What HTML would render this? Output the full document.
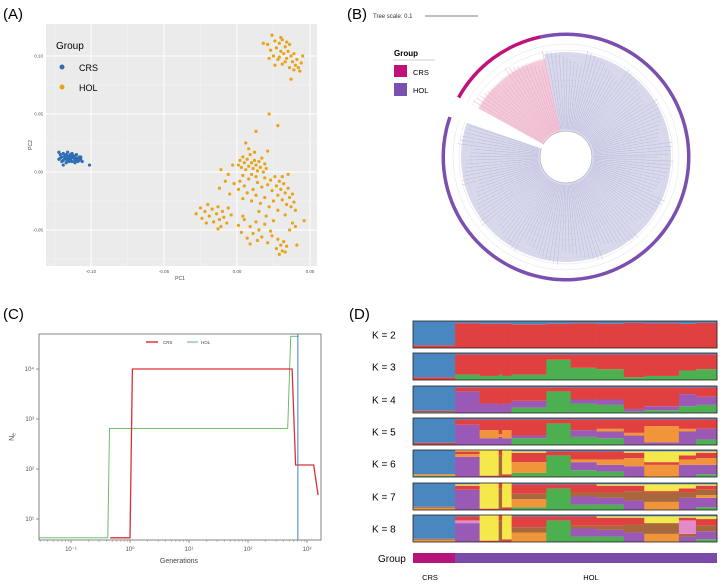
<!DOCTYPE html>
<html><head><meta charset="utf-8"><style>
body{margin:0;background:#fff;}
svg{display:block;font-family:"Liberation Sans",sans-serif;}
</style></head><body>
<svg id="fig" width="722" height="586" viewBox="0 0 722 586" xmlns="http://www.w3.org/2000/svg">
<text x="3" y="19" font-size="15">(A)</text>
<text x="347" y="19" font-size="15">(B)</text>
<text x="3" y="319" font-size="15">(C)</text>
<text x="349" y="319" font-size="15">(D)</text>

<g id="pa">
<rect x="46" y="24" width="271" height="242" fill="#ebebeb"/>
<g id="pagrid"></g><g id="papts"></g>
<text x="56" y="49" font-size="10">Group</text>
<circle cx="62" cy="67" r="2.5" fill="#2e6db4"/>
<text x="79" y="71" font-size="9">CRS</text>
<circle cx="62" cy="87" r="2.5" fill="#e8a317"/>
<text x="79" y="91" font-size="9">HOL</text>
<text x="180" y="280" font-size="5" fill="#444" text-anchor="middle">PC1</text>
<text x="32" y="145" font-size="5" fill="#444" text-anchor="middle" transform="rotate(-90 32 145)">PC2</text>
</g>

<g id="pb">
<text x="373" y="18" font-size="6" fill="#333">Tree scale: 0.1</text>
<line x1="425" y1="16" x2="478" y2="16" stroke="#555" stroke-width="0.7"/>
<g id="tree"></g>
<rect x="391" y="44" width="46" height="56" fill="#fff"/>
<text x="394" y="56" font-size="8" font-weight="bold">Group</text>
<line x1="393" y1="60" x2="435" y2="60" stroke="#999" stroke-width="0.5"/>
<rect x="394" y="65" width="13" height="12" fill="#c0127a"/>
<text x="413" y="75" font-size="7.5">CRS</text>
<rect x="394" y="83" width="13" height="13" fill="#7b4fb0"/>
<text x="413" y="93" font-size="7.5">HOL</text>
</g>

<g id="pc">
<g id="cax"></g><g id="clines"></g>
<rect x="39" y="334" width="282" height="206" fill="none" stroke="#666" stroke-width="0.8"/>
<line x1="146" y1="342" x2="158" y2="342" stroke="#d9303a" stroke-width="1.5"/>
<text x="163" y="344" font-size="4.5" fill="#444">CRS</text>
<line x1="187" y1="342" x2="198" y2="342" stroke="#5cb85c" stroke-width="1"/>
<text x="201" y="344" font-size="4.5" fill="#444">HOL</text>
<text x="179" y="563" font-size="7" fill="#444" text-anchor="middle">Generations</text>
<text x="14" y="437" font-size="7" fill="#444" text-anchor="middle" transform="rotate(-90 14 437)">N<tspan font-size="5" dy="1.5">e</tspan></text>
</g>

<g id="pd">
<g id="adm"></g>
<rect x="413" y="553" width="42" height="10" fill="#b5157a"/>
<rect x="455" y="553" width="262" height="10" fill="#7a4aa8"/>
<text x="378" y="562" font-size="10">Group</text>
<text x="430" y="580" font-size="7.5" text-anchor="middle">CRS</text>
<text x="591" y="580" font-size="7.5" text-anchor="middle">HOL</text>
</g>
</svg>
<script>
var NS="http://www.w3.org/2000/svg";
function mk(tag,attrs,parent){var e=document.createElementNS(NS,tag);for(var k in attrs)e.setAttribute(k,attrs[k]);parent.appendChild(e);return e;}

// ---------- Panel A data ----------
var pcTicksX=[-0.10,-0.05,0.00,0.05];
var pcTicksY=[-0.05,0.00,0.05,0.10];
var crsPoints=[[-0.122,0.017],[-0.121,0.015],[-0.120,0.013],[-0.119,0.016],[-0.118,0.012],[-0.118,0.014],[-0.117,0.011],[-0.117,0.015],[-0.116,0.013],[-0.116,0.010],[-0.115,0.014],[-0.115,0.012],[-0.114,0.011],[-0.114,0.015],[-0.113,0.013],[-0.113,0.009],[-0.112,0.012],[-0.112,0.014],[-0.111,0.010],[-0.111,0.013],[-0.110,0.011],[-0.110,0.015],[-0.109,0.012],[-0.109,0.009],[-0.108,0.010],[-0.108,0.013],[-0.107,0.011],[-0.106,0.009],[-0.121,0.012],[-0.119,0.010],[-0.117,0.008],[-0.115,0.009],[-0.122,0.011],[-0.120,0.009],[-0.113,0.016],[-0.111,0.008],[-0.107,0.013],[-0.101,0.006],[-0.119,0.006],[-0.116,0.017]];
var holPoints=[[0.018,0.111],[0.021,0.110],[0.024,0.118],[0.026,0.113],[0.027,0.107],[0.029,0.111],[0.030,0.104],[0.031,0.114],[0.032,0.102],[0.033,0.108],[0.034,0.098],[0.035,0.104],[0.036,0.110],[0.037,0.100],[0.038,0.095],[0.039,0.102],[0.040,0.092],[0.041,0.097],[0.042,0.090],[0.044,0.094],[0.045,0.100],[0.028,0.097],[0.026,0.092],[0.025,0.100],[0.023,0.105],[0.031,0.093],[0.033,0.095],[0.036,0.090],[0.037,0.080],[0.029,0.099],[0.034,0.112],[0.030,0.116],[0.039,0.088],[0.022,0.098],[0.043,0.087],
[0.022,0.050],[0.028,0.040],[0.013,0.035],
[0.001,0.006],[0.002,0.010],[0.003,0.004],[0.004,0.013],[0.005,0.008],[0.006,0.002],[0.007,0.011],[0.008,0.005],[0.009,0.015],[0.010,0.008],[0.011,0.003],[0.012,0.010],[0.013,0.006],[0.014,0.001],[0.015,0.009],[0.016,0.004],[0.017,0.012],[0.018,0.000],[0.019,0.007],[0.020,0.003],[0.021,0.018],[0.008,0.020],[0.012,0.017],[0.006,0.025],[0.010,-0.002],[0.013,-0.004],[0.004,-0.003],[-0.003,0.006],[-0.006,-0.002],[-0.011,0.002],
[0.002,-0.008],[0.005,-0.012],[0.008,-0.006],[0.011,-0.015],[0.014,-0.009],[0.017,-0.013],[0.019,-0.005],[0.021,-0.011],[0.023,-0.007],[0.024,-0.016],[0.026,-0.004],[0.027,-0.012],[0.028,-0.020],[0.029,-0.008],[0.030,-0.015],[0.031,-0.024],[0.032,-0.010],[0.033,-0.018],[0.034,-0.028],[0.035,-0.014],[0.036,-0.022],[0.037,-0.030],[0.038,-0.019],[0.039,-0.026],[0.040,-0.033],[0.025,-0.025],[0.022,-0.030],[0.019,-0.022],[0.016,-0.027],[0.013,-0.020],[0.010,-0.025],[0.007,-0.018],[0.004,-0.023],[0.001,-0.015],[-0.002,-0.010],[-0.005,-0.019],[-0.008,-0.008],[-0.012,-0.014],[0.031,-0.004],[0.035,-0.002],[0.028,-0.033],[0.033,-0.037],[0.020,-0.038],[0.015,-0.034],
[-0.028,-0.036],[-0.025,-0.031],[-0.024,-0.040],[-0.022,-0.034],[-0.020,-0.028],[-0.019,-0.038],[-0.017,-0.032],[-0.016,-0.043],[-0.014,-0.036],[-0.013,-0.030],[-0.012,-0.041],[-0.011,-0.047],[-0.010,-0.034],[-0.009,-0.039],[-0.007,-0.044],[-0.006,-0.031],[-0.004,-0.037],[-0.013,-0.049],[-0.021,-0.044],
[0.001,-0.046],[0.003,-0.052],[0.005,-0.041],[0.007,-0.057],[0.009,-0.047],[0.011,-0.053],[0.013,-0.043],[0.015,-0.050],[0.017,-0.056],[0.019,-0.045],[0.021,-0.061],[0.023,-0.051],[0.025,-0.042],[0.027,-0.066],[0.028,-0.058],[0.029,-0.071],[0.030,-0.063],[0.031,-0.068],[0.032,-0.060],[0.033,-0.069],[0.034,-0.064],[0.036,-0.050],[0.038,-0.044],[0.040,-0.047],[0.046,-0.042],[0.041,-0.063],[0.009,-0.062],[0.014,-0.059],[0.004,-0.038],[0.024,-0.055]];

// ---------- Panel C data ----------
var neTicksX=[-1,0,1,2,3];
var neTicksY=[1,2,3,4];
var crsGen=[0.46,1.0,1.1,560,640,1300,1540];
var crsNe=[4.2,4.2,10000,10000,120,120,30];
var holGen=[0.028,0.42,0.45,470,530,720];
var holNe=[4.2,4.2,650,650,45000,45000];
var blueGen=700;

// ---------- Panel D data ----------
var compColors={g:"#4caf50",p:"#9b59b6",o:"#f0953a",br:"#a8683c",pk:"#e58ac8",r:"#e0403f",y:"#f5e84a",b:"#4a86c0"};
var stackOrder=["g","p","o","br","pk","r","y"];
var segCounts=[62,36,28,5,14,51,36,38,40,30,51,25,31];
var kLabels=[2,3,4,5,6,7,8];
var admK2=[{r:.1},{r:.92},{r:.9},{r:.9},{r:.9},{r:.88},{r:.9},{r:.92},{r:.9},{r:.93},{r:.92},{r:.9},{r:.93}];
var admK3=[{r:.1},{g:.2,r:.75},{g:.15,r:.8},{g:.2,r:.75},{g:.15,r:.8},{g:.2,r:.75},{g:.75,r:.2},{g:.45,r:.5},{g:.4,r:.55},{g:.1,r:.85},{g:.15,r:.8},{g:.35,r:.6},{g:.4,r:.55}];
var admK4=[{g:.03,r:.05},{p:.8,r:.15},{p:.35,r:.6},{p:.3,r:.65},{p:.35,r:.6},{g:.2,p:.25,r:.5},{g:.8,r:.15},{g:.35,p:.15,r:.45},{g:.3,p:.2,r:.45},{g:.05,p:.1,r:.8},{g:.1,p:.15,r:.7},{g:.25,p:.45,r:.25},{g:.3,p:.3,r:.35}];
var admK5=[{r:.08},{p:.75,r:.2},{p:.25,o:.3,r:.4},{p:.3,o:.1,r:.55},{p:.25,o:.3,r:.4},{g:.25,p:.1,r:.6},{g:.8,r:.15},{g:.3,p:.25,r:.4},{g:.25,p:.25,o:.1,r:.35},{p:.35,o:.1,r:.5},{p:.1,o:.6,r:.25},{p:.5,o:.1,r:.35},{g:.2,p:.4,r:.35}];
var admK6=[{g:.04,o:.06},{p:.75,o:.1,r:.1,y:.05},{y:.95,r:.05},{br:.8,r:.2},{y:.9,r:.1},{g:.15,o:.4,r:.35,y:.05},{g:.8,r:.15},{g:.25,p:.3,o:.1,r:.3},{g:.2,p:.25,o:.2,r:.3},{p:.4,o:.3,r:.2,y:.05},{o:.45,r:.1,y:.4},{p:.45,o:.2,r:.15,y:.15},{g:.1,p:.35,o:.25,r:.2,y:.05}];
var admK7=[{o:.08,br:.04},{p:.75,r:.15,y:.05},{y:.95,r:.05},{br:.8,r:.2},{y:.9,r:.1},{g:.1,o:.3,br:.2,r:.35},{g:.8,r:.15},{g:.2,p:.3,br:.15,r:.3},{g:.2,p:.25,br:.2,r:.25,y:.05},{p:.35,br:.35,r:.2,y:.05},{o:.3,br:.35,r:.05,y:.25},{p:.45,br:.2,r:.15,y:.15},{g:.1,p:.35,o:.1,br:.2,r:.15,y:.05}];
var admK8=[{o:.08,br:.04},{p:.7,pk:.1,r:.15},{y:.95,r:.05},{br:.8,r:.2},{y:.9,r:.1},{o:.35,br:.2,r:.4},{g:.8,r:.15},{g:.2,p:.3,br:.1,r:.35},{g:.2,p:.25,br:.15,r:.3,y:.05},{p:.35,br:.3,r:.25,y:.05},{o:.3,br:.4,y:.25},{p:.2,br:.1,pk:.5,r:.1,y:.05},{g:.1,p:.3,br:.2,r:.25,y:.1}];
var admRows=[admK2,admK3,admK4,admK5,admK6,admK7,admK8];

// ---------- Draw A ----------
(function(){
 var g=document.getElementById("pagrid"),pg=document.getElementById("papts"),par=document.getElementById("pa");
 function sx(v){return 237+v*1460;} function sy(v){return 172-v*1160;}
 // minor grid
 [-0.125,-0.075,-0.025,0.025].forEach(function(v){var l=mk("line",{x1:sx(v),x2:sx(v),y1:24,y2:266,stroke:"#f4f4f4","stroke-width":0.5},g);});
 [-0.075,-0.025,0.025,0.075].forEach(function(v){var l=mk("line",{y1:sy(v),y2:sy(v),x1:46,x2:317,stroke:"#f4f4f4","stroke-width":0.5},g);});
 pcTicksX.forEach(function(v){var l=mk("line",{x1:sx(v),x2:sx(v),y1:24,y2:266,stroke:"#fff","stroke-width":1},g);
  var t=mk("text",{x:sx(v),y:273,"font-size":4.5,fill:"#555","text-anchor":"middle"},par);t.textContent=v.toFixed(2);});
 pcTicksY.forEach(function(v){var l=mk("line",{y1:sy(v),y2:sy(v),x1:46,x2:317,stroke:"#fff","stroke-width":1},g);
  var t=mk("text",{x:43,y:sy(v)+1.5,"font-size":4.5,fill:"#555","text-anchor":"end"},par);t.textContent=v.toFixed(2);});
 crsPoints.forEach(function(p){var c=mk("circle",{cx:sx(p[0]),cy:sy(p[1]),r:1.6,fill:"#2e6db4"},pg);});
 holPoints.forEach(function(p){var c=mk("circle",{cx:sx(p[0]),cy:sy(p[1]),r:1.6,fill:"#e8a317"},pg);});
})();

// ---------- Draw B (tree) ----------
(function(){
 var g=document.getElementById("tree"),cx=566,cy=157;
 function pt(r,a){var t=a*Math.PI/180;return [cx+r*Math.cos(t),cy+r*Math.sin(t)];}
 function wedge(r0,r1,a0,a1,fill,name){var p0=pt(r1,a0),p1=pt(r1,a1),p2=pt(r0,a1),p3=pt(r0,a0);var lg=(a1-a0)>180?1:0;
  var e=mk("path",{d:"M"+p0+" A"+r1+" "+r1+" 0 "+lg+" 1 "+p1+" L"+p2+" A"+r0+" "+r0+" 0 "+lg+" 0 "+p3+"Z",fill:fill},g);return e;}
 wedge(0.1,105,258,560,"#d9d9ee","hol-clade-fill");
 wedge(0.1,100,209,258,"#f5c9da","crs-clade-fill");
 for(var r=35;r<=115;r+=6){var c=mk("circle",{cx:cx,cy:cy,r:r,fill:"none",stroke:"#ccc","stroke-width":0.3},g);}
 for(var a=0;a<360;a+=2.2){if(a>198&&a<210)continue;var p0=pt(28,a),p1=pt(92+((a*7)%17),a);var l=mk("line",{x1:p0[0],y1:p0[1],x2:p1[0],y2:p1[1],stroke:(a>210&&a<258)?"#e9a9c4":"#b9b9dc","stroke-width":0.5},g);}
 var ic=mk("circle",{cx:cx,cy:cy,r:26,fill:"#fff",stroke:"#999","stroke-width":0.5},g);
 wedge(10,120,199,209,"#fff","tree-gap");
 wedge(121,124.5,258,559,"#7b4fb0","hol-ring");
 wedge(121,124.5,209,258,"#c0127a","crs-ring");
})();

// ---------- Draw C ----------
(function(){
 var ax=document.getElementById("cax"),ln=document.getElementById("clines"),pc=document.getElementById("pc");
 function sx(v){return 130+Math.log10(v)*59;} function sy(v){return 519-(Math.log10(v)-1)*50;}
 var sup=["\u207B\u00B9","\u2070","\u00B9","\u00B2","\u00B3"];
 neTicksX.forEach(function(e,i){var x=130+e*59;var t=mk("line",{x1:x,x2:x,y1:540,y2:543,stroke:"#555","stroke-width":0.6},ax);
  var tx=mk("text",{x:x,y:551,"font-size":6,fill:"#555","text-anchor":"middle"},pc);tx.textContent="10"+sup[i];
  for(var m=2;m<10;m++){var xm=x+Math.log10(m)*59;if(xm<39||xm>321)continue;var mm=mk("line",{x1:xm,x2:xm,y1:540,y2:542,stroke:"#777","stroke-width":0.4},ax);}});
 for(var m=2;m<10;m++){var xm=130-2*59+Math.log10(m)*59;if(xm>=39){var mm=mk("line",{x1:xm,x2:xm,y1:540,y2:542,stroke:"#777","stroke-width":0.4},ax);}}
 var supY=["\u00B9","\u00B2","\u00B3","\u2074"];
 neTicksY.forEach(function(e,i){var y=sy(Math.pow(10,e));var t=mk("line",{x1:36,x2:39,y1:y,y2:y,stroke:"#555","stroke-width":0.6},ax);
  var tx=mk("text",{x:34,y:y+2,"font-size":6,fill:"#555","text-anchor":"end"},pc);tx.textContent="10"+supY[i];});
 function path(xs,ys,col,w,name){var d="";for(var i=0;i<xs.length;i++)d+=(i?"L":"M")+sx(xs[i]).toFixed(1)+","+sy(ys[i]).toFixed(1);var p=mk("path",{d:d,fill:"none",stroke:col,"stroke-width":w},ln);}
 path(holGen,holNe,"#5cb85c",0.9,"hol-ne-line");
 path(crsGen,crsNe,"#d9303a",1.3,"crs-ne-line");
 var b=mk("line",{x1:sx(blueGen),x2:sx(blueGen),y1:334,y2:540,stroke:"#3a84c8","stroke-width":1},ln);
})();

// ---------- Draw D ----------
(function(){
 var g=document.getElementById("adm"),pd=document.getElementById("pd");
 var rowY=[321,353,386,418,450,483,515],h=27,x0=413,W=304;
 var total=segCounts.reduce(function(a,b){return a+b;},0);
 admRows.forEach(function(row,ri){
  var x=x0,y0=rowY[ri];
  row.forEach(function(seg,si){
   var w=segCounts[si]/total*W,yb=y0+h,acc=0;
   stackOrder.forEach(function(k){if(seg[k]){var hh=seg[k]*h;var r=mk("rect",{x:x.toFixed(2),y:(yb-acc-hh).toFixed(2),width:(w+0.3).toFixed(2),height:hh.toFixed(2),fill:compColors[k]},g);acc+=hh;}});
   var rb=mk("rect",{x:x.toFixed(2),y:y0,width:(w+0.3).toFixed(2),height:Math.max(0,h-acc).toFixed(2),fill:compColors.b},g);
   x+=w;});
  var fr=mk("rect",{x:x0,y:y0,width:W,height:h,fill:"none",stroke:"#222","stroke-width":0.8},g);
  var t=mk("text",{x:372,y:y0+h/2+4,"font-size":10},pd);t.textContent="K = "+kLabels[ri];
 });
})();
</script>
</body></html>
